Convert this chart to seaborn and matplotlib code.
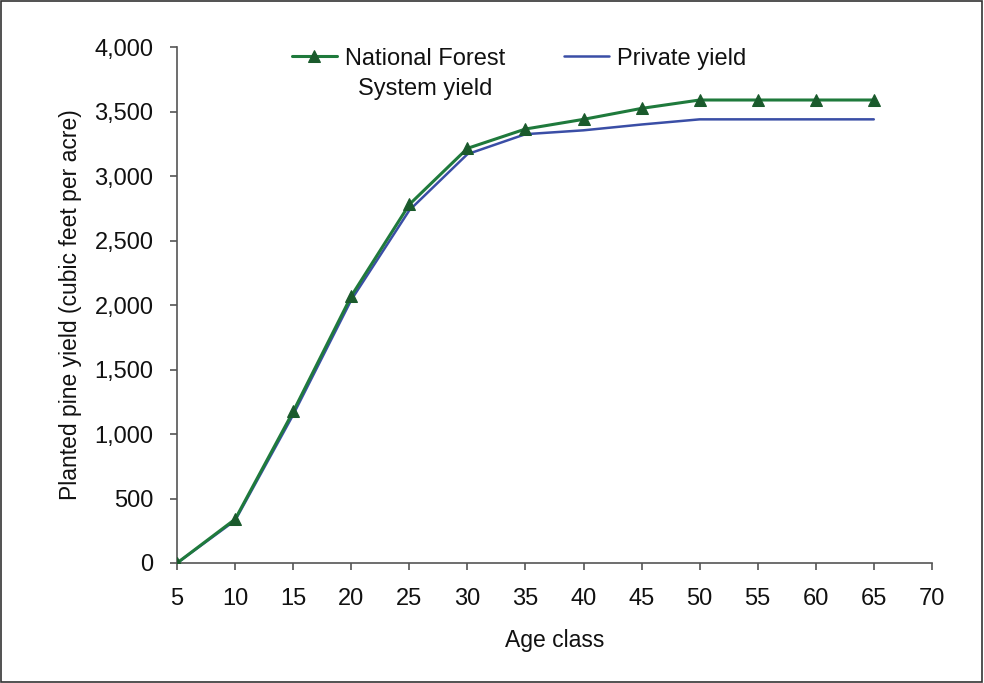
import matplotlib
matplotlib.use("Agg")
import matplotlib.pyplot as plt
import seaborn as sns
import pandas as pd
from matplotlib.patches import Rectangle

age = [5, 10, 15, 20, 25, 30, 35, 40, 45, 50, 55, 60, 65]
nfs_yield = [0, 340, 1175, 2070, 2780, 3215, 3365, 3440, 3525, 3590, 3590, 3590, 3590]
private_yield = [0, 330, 1150, 2040, 2735, 3170, 3325, 3355, 3400, 3440, 3440, 3440, 3440]
xticks = [5, 10, 15, 20, 25, 30, 35, 40, 45, 50, 55, 60, 65, 70]
yticks = [0, 500, 1000, 1500, 2000, 2500, 3000, 3500, 4000]
nfs_label_line1 = "National Forest"
nfs_label_line2 = "System yield"
private_label = "Private yield"

sns.set_theme(style="ticks")
plt.rcParams['font.family'] = ['Liberation Sans', 'DejaVu Sans']

FS = 17
fig = plt.figure(figsize=(9.84, 6.83), dpi=100)
ax = fig.add_axes([0.18, 0.1757, 0.767, 0.7553])

df_n = pd.DataFrame({"age": age, "y": nfs_yield})
df_p = pd.DataFrame({"age": age, "y": private_yield})

sns.lineplot(data=df_n, x="age", y="y", ax=ax, color="#1f7a3c", lw=2.2,
             marker="^", markersize=8, markerfacecolor="#1a5a2c",
             markeredgecolor="#1a5a2c", label=nfs_label_line1, zorder=3)
sns.lineplot(data=df_p, x="age", y="y", ax=ax, color="#3a4ea6", lw=1.8,
             label=private_label, zorder=2)

ax.set_xlim(5, 70)
ax.set_ylim(0, 4000)
ax.set_xticks(xticks)
ax.set_yticks(yticks)
ax.set_yticklabels([f"{v:,}" for v in yticks])
ax.set_xlabel("Age class", fontsize=16.5, labelpad=14, color="#111111")
ax.set_ylabel("Planted pine yield (cubic feet per acre)", fontsize=16.5, labelpad=9, color="#111111")
ax.tick_params(axis="both", labelsize=FS, length=5, width=1.2, color="#555555",
               direction="out", labelcolor="#111111")
ax.tick_params(axis="x", pad=13)
ax.tick_params(axis="y", pad=12)
for s in ["top", "right"]:
    ax.spines[s].set_visible(False)
for s in ["left", "bottom"]:
    ax.spines[s].set_color("#555555")
    ax.spines[s].set_linewidth(1.2)

leg = ax.legend(loc="upper left", bbox_to_anchor=(0.152, 0.999), ncol=2, frameon=False,
                fontsize=FS, handlelength=1.9, columnspacing=2.5, handletextpad=0.35,
                borderpad=0, borderaxespad=0)
for t in leg.get_texts():
    t.set_color("#111111")

fig.canvas.draw()
t0 = leg.get_texts()[0]
bb = t0.get_window_extent(renderer=fig.canvas.get_renderer())
cx = (bb.x0 + bb.x1) / 2
fig.text(cx / fig.bbox.width, (bb.y0 - 30) / fig.bbox.height, nfs_label_line2,
         fontsize=FS, ha="center", va="bottom", color="#111111")

fig.add_artist(Rectangle((0.001, 0.002), 0.997, 0.996, transform=fig.transFigure,
                         fill=False, ec="#333333", lw=1.2))

fig.savefig("out.png", dpi=100)
